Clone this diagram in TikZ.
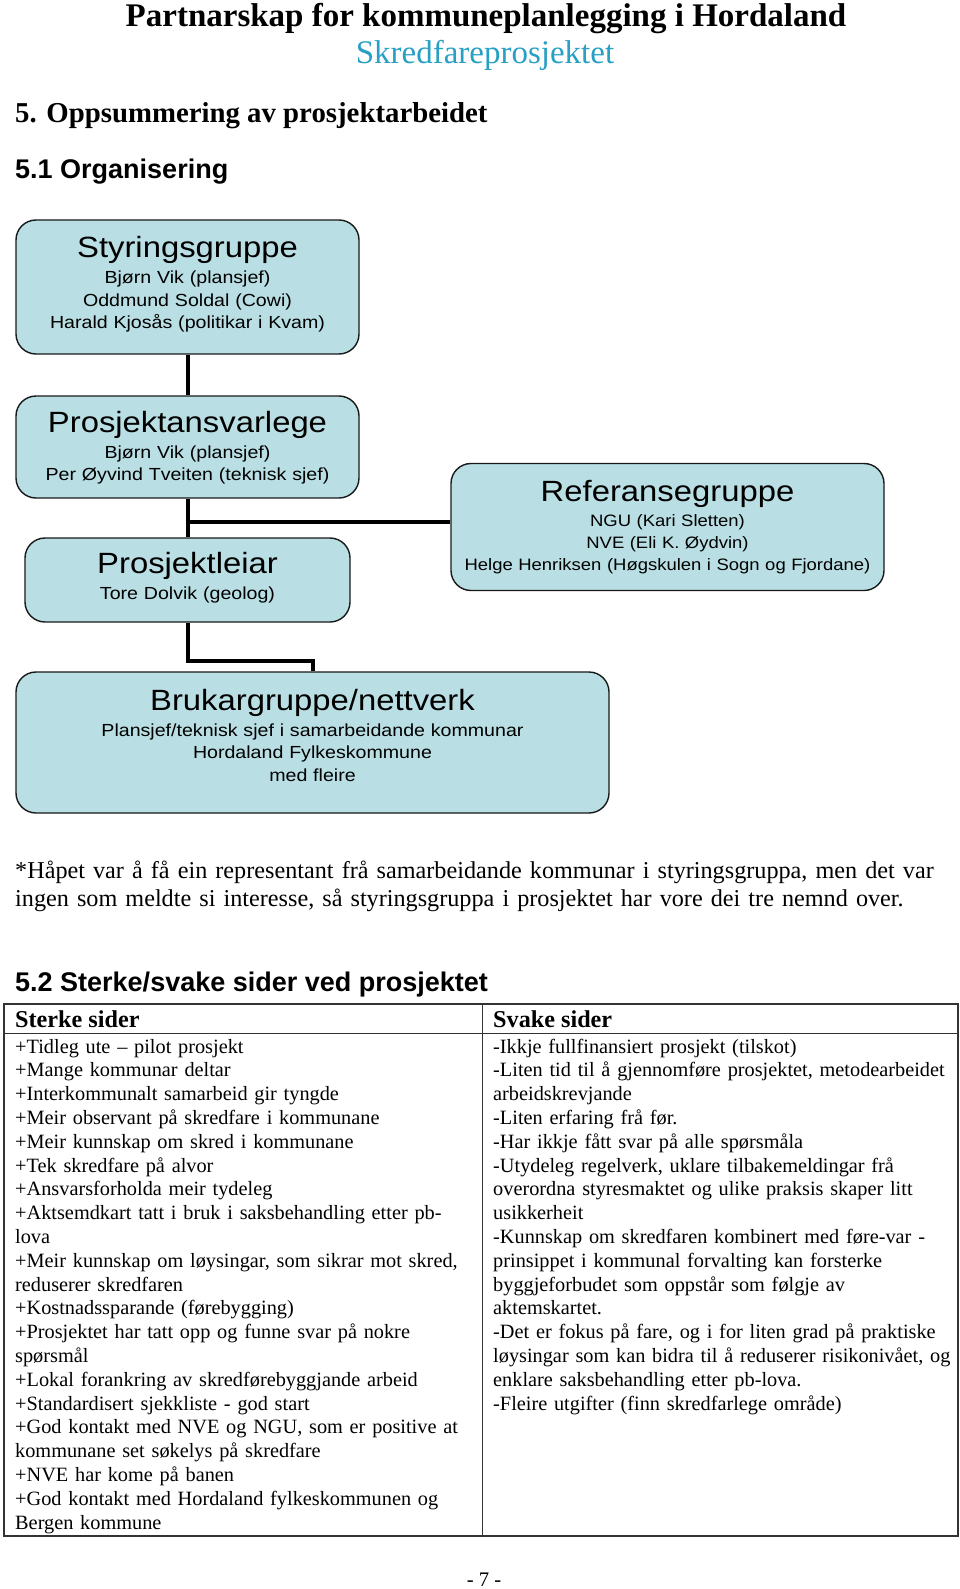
\documentclass[tikz,border=0pt]{standalone}
\usepackage{fontspec}
\setmainfont{Liberation Serif}
\newfontfamily\boxfont[FakeStretch=1.12]{Liberation Sans}
\newfontfamily\arialfont{Liberation Sans}
\definecolor{skredblue}{RGB}{40,160,196}
\definecolor{boxfill}{RGB}{185,223,228}
\newcommand\boxtitle[1]{{\fontsize{29.3}{30}\selectfont #1\par}\vspace{3.5pt}}
\begin{document}
\begin{tikzpicture}[x=1pt,y=-1pt,
    org/.style={draw=black!90,line width=1.4pt,fill=boxfill,rounded corners=20pt,inner sep=0pt},
    orgtext/.style={anchor=base,align=center,inner sep=0pt,font=\boxfont\fontsize{17.5}{22.5}\selectfont},
    conn/.style={line width=4pt},
    txt/.style={anchor=base west,inner sep=0pt,align=left}]
  \useasboundingbox (0,0) rectangle (960,1589);

  \node[anchor=base,inner sep=0pt,font=\bfseries\fontsize{33}{36}\selectfont] (title) at (486,27) {Partnarskap for kommuneplanlegging i Hordaland};
  \node[anchor=base,inner sep=0pt,text=skredblue,font=\fontsize{33}{36}\selectfont] (subtitle) at (485,64) {Skredfareprosjektet};
  \node[txt,font=\bfseries\fontsize{28.8}{32}\selectfont] (h5) at (15,123) {5. Oppsummering av prosjektarbeidet};
  \node[txt,font=\arialfont\bfseries\fontsize{27}{30}\selectfont] (h51) at (15,179) {5.1 Organisering};

  \node[org,minimum width=343pt,minimum height=134pt] (styr) at (187.5,287) {};
  \node[org,minimum width=343pt,minimum height=102pt] (ansv) at (187.5,447) {};
  \node[org,minimum width=325pt,minimum height=84pt] (leiar) at (187.5,580) {};
  \node[org,minimum width=433pt,minimum height=127pt] (ref) at (667.5,527) {};
  \node[org,minimum width=593pt,minimum height=141pt] (bruk) at (312.5,742.5) {};

  \draw[conn] (styr) -- (ansv);
  \draw[conn] (ansv) -- (leiar);
  \draw[conn] ([yshift=5pt]ref.west) -- ([yshift=5pt]ref.west -| ansv.south);
  \draw[conn] (leiar.south) -- ++(0,38) -| (bruk.north);

  \node[orgtext,text width=340pt] (styr-t) at (187.5,258) {\boxtitle{Styringsgruppe}Bjørn Vik (plansjef)\\Oddmund Soldal (Cowi)\\Harald Kjosås (politikar i Kvam)};
  \node[orgtext,text width=340pt] (ansv-t) at (187.5,432) {\boxtitle{Prosjektansvarlege}Bjørn Vik (plansjef)\\Per Øyvind Tveiten (teknisk sjef)};
  \node[orgtext,text width=320pt] (leiar-t) at (187.5,573) {\boxtitle{Prosjektleiar}Tore Dolvik (geolog)};
  \node[orgtext,text width=470pt,font=\boxfont\fontsize{16.5}{22}\selectfont] (ref-t) at (667.5,501) {\boxtitle{Referansegruppe}NGU (Kari Sletten)\\NVE (Eli K. Øydvin)\\Helge Henriksen (Høgskulen i Sogn og Fjordane)};
  \node[orgtext,text width=590pt] (bruk-t) at (312.5,710) {\boxtitle{Brukargruppe/nettverk}Plansjef/teknisk sjef i samarbeidande kommunar\\Hordaland Fylkeskommune\\med fleire};

  \node[txt,text width=950pt,font=\fontsize{24.2}{28}\selectfont] (note) at (15,878) {*Håpet var å få ein representant frå samarbeidande kommunar i styringsgruppa, men det var\\ingen som meldte si interesse, så styringsgruppa i prosjektet har vore dei tre nemnd over.};
  \node[txt,font=\arialfont\bfseries\fontsize{27}{30}\selectfont] (h52) at (15,991) {5.2 Sterke/svake sider ved prosjektet};

  \draw[line width=1.5pt,black!80] (4,1004) rectangle (958,1536);
  \draw[line width=1pt,black!80] (4,1033) -- (958,1033) (482,1004) -- (482,1536);

  \node[txt,font=\bfseries\fontsize{24.2}{28}\selectfont] (sterk-h) at (15,1027) {Sterke sider};
  \node[txt,font=\bfseries\fontsize{24.2}{28}\selectfont] (svak-h) at (493,1027) {Svake sider};
  \node[txt,text width=475pt,font=\fontsize{20.3}{23.8}\selectfont] (sterk) at (15,1053) {+Tidleg ute -- pilot prosjekt\\
    +Mange kommunar deltar\\
    +Interkommunalt samarbeid gir tyngde\\
    +Meir observant på skredfare i kommunane\\
    +Meir kunnskap om skred i kommunane\\
    +Tek skredfare på alvor\\
    +Ansvarsforholda meir tydeleg\\
    +Aktsemdkart tatt i bruk i saksbehandling etter pb-\\
    lova\\
    +Meir kunnskap om løysingar, som sikrar mot skred,\\
    reduserer skredfaren\\
    +Kostnadssparande (førebygging)\\
    +Prosjektet har tatt opp og funne svar på nokre\\
    spørsmål\\
    +Lokal forankring av skredførebyggjande arbeid\\
    +Standardisert sjekkliste - god start\\
    +God kontakt med NVE og NGU, som er positive at\\
    kommunane set søkelys på skredfare\\
    +NVE har kome på banen\\
    +God kontakt med Hordaland fylkeskommunen og\\
    Bergen kommune};
  \node[txt,text width=500pt,font=\fontsize{20.3}{23.8}\selectfont] (svak) at (493,1053) {-Ikkje fullfinansiert prosjekt (tilskot)\\
    -Liten tid til å gjennomføre prosjektet, metodearbeidet\\
    arbeidskrevjande\\
    -Liten erfaring frå før.\\
    -Har ikkje fått svar på alle spørsmåla\\
    -Utydeleg regelverk, uklare tilbakemeldingar frå\\
    overordna styresmaktet og ulike praksis skaper litt\\
    usikkerheit\\
    -Kunnskap om skredfaren kombinert med føre-var -\\
    prinsippet i kommunal forvalting kan forsterke\\
    byggjeforbudet som oppstår som følgje av\\
    aktemskartet.\\
    -Det er fokus på fare, og i for liten grad på praktiske\\
    løysingar som kan bidra til å reduserer risikonivået, og\\
    enklare saksbehandling etter pb-lova.\\
    -Fleire utgifter (finn skredfarlege område)};

  \node[anchor=base,inner sep=0pt,font=\fontsize{20.7}{24}\selectfont] (page) at (484,1586) {- 7 -};
\end{tikzpicture}
\end{document}
